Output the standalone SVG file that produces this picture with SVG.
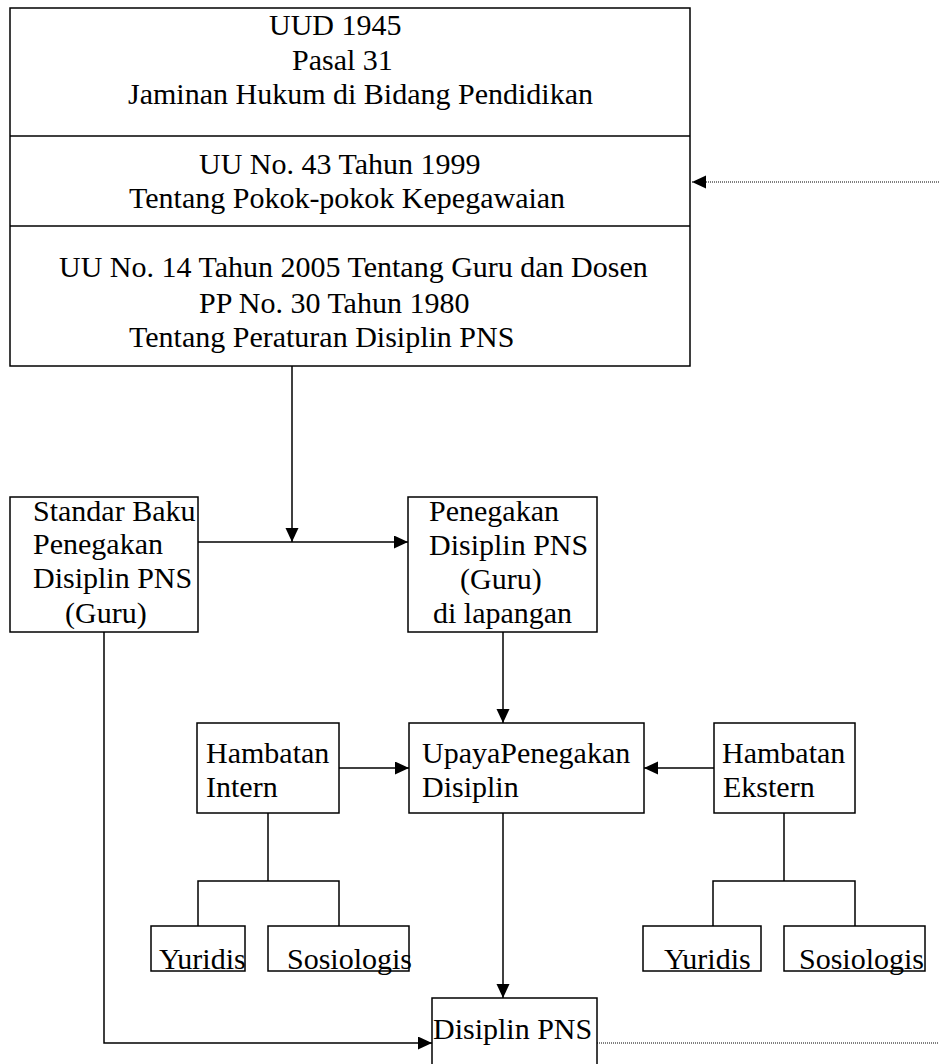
<svg xmlns="http://www.w3.org/2000/svg" width="939" height="1064" viewBox="0 0 939 1064">
<style>
  .box { fill: #ffffff; stroke: #000000; stroke-width: 1.5; }
  .ln { fill: none; stroke: #000000; stroke-width: 1.5; }
  .dot { fill: none; stroke: #000000; stroke-width: 1; stroke-dasharray: 1 1; }
  text { font-family: "Liberation Serif", "Times New Roman", serif; font-size: 30px; fill: #000000; }
</style>
<defs>
  <marker id="arr" markerUnits="userSpaceOnUse" markerWidth="15" markerHeight="14" refX="14" refY="6.5" orient="auto">
    <path d="M0,0 L14,6.5 L0,13 z" fill="#000000"/>
  </marker>
</defs>
<rect x="0" y="0" width="939" height="1064" fill="#ffffff"/>

<g id="connectors">
  <line class="ln" x1="292" y1="366" x2="292" y2="542" marker-end="url(#arr)"/>
  <line class="ln" x1="198" y1="542" x2="408" y2="542" marker-end="url(#arr)"/>
  <line class="ln" x1="503" y1="632" x2="503" y2="723" marker-end="url(#arr)"/>
  <line class="ln" x1="339" y1="768" x2="409" y2="768" marker-end="url(#arr)"/>
  <line class="ln" x1="714" y1="768" x2="644" y2="768" marker-end="url(#arr)"/>
  <line class="ln" x1="503" y1="813" x2="503" y2="998" marker-end="url(#arr)"/>
  <polyline class="ln" points="104,632 104,1043 432,1043" marker-end="url(#arr)"/>
  <polyline class="ln" points="268,813 268,881"/>
  <polyline class="ln" points="198,926 198,881 339,881 339,926"/>
  <polyline class="ln" points="784,813 784,881"/>
  <polyline class="ln" points="713,926 713,881 855,881 855,926"/>
  <line class="dot" x1="939" y1="182" x2="692" y2="182" marker-end="url(#arr)"/>
  <line class="dot" x1="597" y1="1043" x2="939" y2="1043"/>
</g>

<g id="node-legal">
  <rect class="box" x="10" y="8" width="680" height="358"/>
  <line class="ln" x1="10" y1="136" x2="690" y2="136"/>
  <line class="ln" x1="10" y1="226" x2="690" y2="226"/>
  <text x="269" y="35">UUD 1945</text>
  <text x="292" y="70">Pasal 31</text>
  <text x="128" y="104">Jaminan Hukum di Bidang Pendidikan</text>
  <text x="199" y="174">UU No. 43 Tahun 1999</text>
  <text x="129" y="208">Tentang Pokok-pokok Kepegawaian</text>
  <text x="59" y="277">UU No. 14 Tahun 2005 Tentang Guru dan Dosen</text>
  <text x="199" y="313">PP No. 30 Tahun 1980</text>
  <text x="129" y="347">Tentang Peraturan Disiplin PNS</text>
</g>

<g id="node-standar">
  <rect class="box" x="10" y="497" width="188" height="135"/>
  <text x="33" y="521">Standar Baku</text>
  <text x="33" y="554">Penegakan</text>
  <text x="33" y="588">Disiplin PNS</text>
  <text x="65" y="623">(Guru)</text>
</g>

<g id="node-penegakan">
  <rect class="box" x="408" y="497" width="189" height="135"/>
  <text x="429" y="521">Penegakan</text>
  <text x="429" y="555">Disiplin PNS</text>
  <text x="460" y="589">(Guru)</text>
  <text x="433" y="623">di lapangan</text>
</g>

<g id="node-intern">
  <rect class="box" x="197" y="723" width="142" height="90"/>
  <text x="206" y="763">Hambatan</text>
  <text x="206" y="797">Intern</text>
</g>

<g id="node-upaya">
  <rect class="box" x="409" y="723" width="235" height="90"/>
  <text x="422" y="763">UpayaPenegakan</text>
  <text x="422" y="797">Disiplin</text>
</g>

<g id="node-ekstern">
  <rect class="box" x="714" y="723" width="141" height="90"/>
  <text x="722" y="763">Hambatan</text>
  <text x="723" y="797">Ekstern</text>
</g>

<g id="node-yuridis-intern">
  <rect class="box" x="151" y="926" width="94" height="45"/>
  <text x="159" y="969">Yuridis</text>
</g>

<g id="node-sosiologis-intern">
  <rect class="box" x="268" y="926" width="141" height="45"/>
  <text x="287" y="969">Sosiologis</text>
</g>

<g id="node-yuridis-ekstern">
  <rect class="box" x="643" y="926" width="118" height="45"/>
  <text x="664" y="969">Yuridis</text>
</g>

<g id="node-sosiologis-ekstern">
  <rect class="box" x="784" y="926" width="141" height="45"/>
  <text x="799" y="969">Sosiologis</text>
</g>

<g id="node-disiplin">
  <rect class="box" x="432" y="998" width="165" height="90"/>
  <text x="433" y="1039">Disiplin PNS</text>
</g>
</svg>
